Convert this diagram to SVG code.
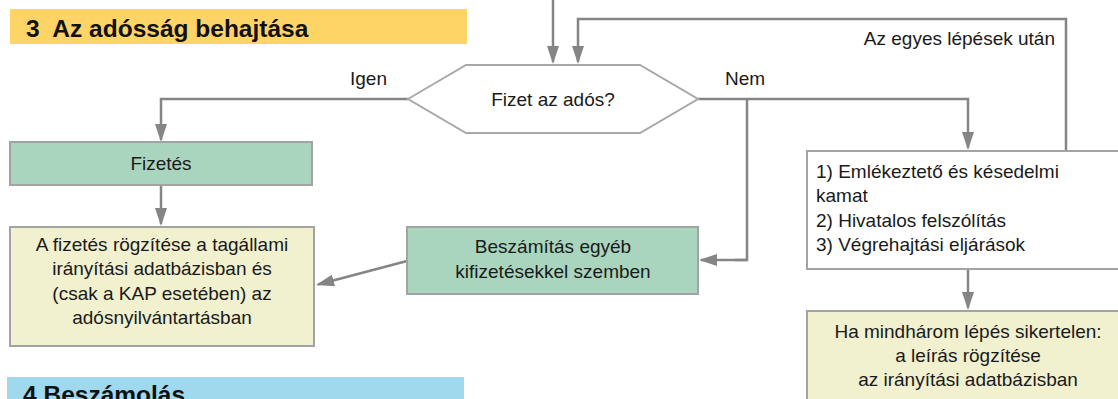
<svg xmlns="http://www.w3.org/2000/svg" width="1118" height="399" viewBox="0 0 1118 399">
<style>
.t{font-family:"Liberation Sans",Arial,sans-serif;font-size:19px;fill:#1a1a1a}
.c{text-anchor:middle}
.h{font-family:"Liberation Sans",Arial,sans-serif;font-size:24.5px;font-weight:bold;fill:#111}
.box{stroke:#a3a3a3;stroke-width:2}
.g{fill:#a9d5bf}
.y{fill:#f1f0cf}
.w{fill:#ffffff}
.ln{fill:none;stroke:#858585;stroke-width:2.5;marker-end:url(#ah)}
.nm{marker-end:none}
</style>
<defs>
<marker id="ah" viewBox="0 0 18 12" refX="16" refY="6" markerWidth="18" markerHeight="12" markerUnits="userSpaceOnUse" orient="auto">
<path d="M0,0 L18,6 L0,12 Z" fill="#858585"/>
</marker>
</defs>
<g id="header3">
<rect x="10" y="9" width="457" height="35" fill="#ffd466"/>
<text class="h" x="26" y="37" xml:space="preserve">3  Az adósság behajtása</text>
</g>
<g id="header4">
<rect x="7" y="377" width="457" height="30" fill="#a0d8ee"/>
<text class="h" x="23" y="403">4 Beszámolás</text>
</g>
<g id="connectors">
<path class="ln" d="M553,0 V62"/>
<path class="ln" d="M1066,151 V19 H578 V62"/>
<path class="ln" d="M698,99 H968 V148"/>
<path class="ln nm" d="M747,99 V260 H735"/>
<path class="ln" d="M747,260 H701"/>
<path class="ln" d="M408,99 H161 V140"/>
<path class="ln" d="M161,185 V224"/>
<path class="ln" d="M407,261 L318,284.5"/>
<path class="ln" d="M968,270 V308"/>
<text class="t" x="350" y="85">Igen</text>
<text class="t" x="725" y="85">Nem</text>
<text class="t" x="1055" y="45" text-anchor="end">Az egyes lépések után</text>
</g>
<g id="decision">
<polygon points="408,99 466,65 640,65 698,99 640,133 466,133" fill="#ffffff" stroke="#a8a8a8" stroke-width="2"/>
<text class="t c" x="553" y="106">Fizet az adós?</text>
</g>
<g id="fizetes">
<rect class="box g" x="10" y="142" width="302" height="43"/>
<text class="t c" x="161" y="170">Fizetés</text>
</g>
<g id="rogzites">
<rect class="box y" x="10" y="227" width="304" height="119"/>
<text class="t c" x="162" y="251">A fizetés rögzítése a tagállami</text>
<text class="t c" x="162" y="275">irányítási adatbázisban és</text>
<text class="t c" x="162" y="300">(csak a KAP esetében) az</text>
<text class="t c" x="162" y="324">adósnyilvántartásban</text>
</g>
<g id="beszamitas">
<rect class="box g" x="407" y="227" width="291" height="67"/>
<text class="t c" x="553" y="253">Beszámítás egyéb</text>
<text class="t c" x="553" y="278">kifizetésekkel szemben</text>
</g>
<g id="lepesek">
<rect class="box w" x="807" y="151" width="330" height="118"/>
<text class="t" x="816" y="178">1) Emlékeztető és késedelmi</text>
<text class="t" x="816" y="202">kamat</text>
<text class="t" x="816" y="227">2) Hivatalos felszólítás</text>
<text class="t" x="816" y="251">3) Végrehajtási eljárások</text>
</g>
<g id="leiras">
<rect class="box y" x="807" y="311" width="330" height="100"/>
<text class="t c" x="968" y="338">Ha mindhárom lépés sikertelen:</text>
<text class="t c" x="968" y="362">a leírás rögzítése</text>
<text class="t c" x="968" y="386">az irányítási adatbázisban</text>
</g>
</svg>
